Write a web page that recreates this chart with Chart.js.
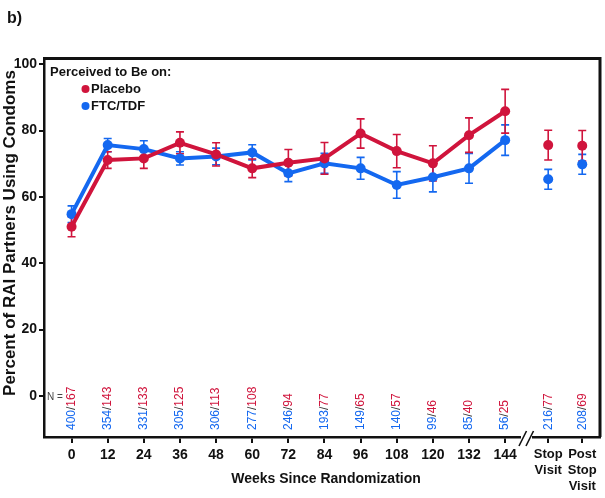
<!DOCTYPE html>
<html>
<head>
<meta charset="utf-8">
<script src="https://cdn.jsdelivr.net/npm/chart.js@4.4.0/dist/chart.umd.min.js"></script>
<style>
  html, body { margin: 0; padding: 0; background: #fff; }
  #wrap { width: 605px; height: 498px; }
</style>
</head>
<body>
<div id="wrap"><canvas id="chart" width="605" height="498"></canvas></div>
<script>
// Weeks since randomization, then the two visit columns after the axis break
const weeks = [0, 12, 24, 36, 48, 60, 72, 84, 96, 108, 120, 132, 144];
const visitX = [158.3, 169.6];
const visitLabels = [['Stop', 'Visit'], ['Post', 'Stop', 'Visit']];
const yTicks = [0, 20, 40, 60, 80, 100];

// Percent of RAI partners using condoms (weeks..., stop, post stop)
const placeboPct = [51.0, 71.1, 71.6, 76.3, 72.8, 68.6, 70.3, 71.6, 79.1, 73.8, 70.1, 78.6, 85.8, 75.6, 75.4];
const placeboErr = [3.0, 2.5, 3.0, 3.3, 3.5, 2.8, 4.0, 4.8, 4.4, 5.0, 5.3, 5.2, 6.6, 4.5, 4.6];
const ftcPct = [54.8, 75.6, 74.4, 71.6, 72.2, 73.4, 67.1, 70.1, 68.6, 63.6, 65.9, 68.6, 77.1, 65.3, 69.8];
const ftcErr = [2.5, 2.0, 2.5, 2.0, 2.5, 2.3, 2.5, 3.0, 3.3, 4.0, 4.4, 4.5, 4.6, 3.0, 3.0];

// N = FTC/TDF / Placebo
const ftcN = [400, 354, 331, 305, 306, 277, 246, 193, 149, 140, 99, 85, 56, 216, 208];
const placeboN = [167, 143, 133, 125, 113, 108, 94, 77, 65, 57, 46, 40, 25, 77, 69];

const RED = '#d0143c';
const BLUE = '#1468f0';
const INK = '#111';
const SANS = "'Liberation Sans', Arial, sans-serif";

const xValues = weeks.concat(visitX);
const tickLabels = weeks.map(String).concat(visitLabels);
const lastWeek = weeks.length - 1;

function toPoints(values) {
    return values.map((v, i) => ({ x: xValues[i], y: v }));
}

function makeDataset(label, values, errors, color) {
    return {
        label,
        data: toPoints(values),
        errors,
        borderColor: color,
        backgroundColor: color,
        borderWidth: 4,
        pointRadius: 5,
        pointBorderWidth: 0,
        pointBackgroundColor: color,
        tension: 0,
        segment: {
            borderColor: (c) => (c.p0DataIndex >= lastWeek ? 'transparent' : color),
        },
    };
}

const errorBars = {
    id: 'errorBars',
    beforeDatasetsDraw(chart) {
        const { ctx } = chart;
        const yScale = chart.scales.y;
        for (let d = chart.data.datasets.length - 1; d >= 0; d--) {
            const ds = chart.data.datasets[d];
            const meta = chart.getDatasetMeta(d);
            ctx.save();
            ctx.strokeStyle = ds.borderColor;
            ctx.lineWidth = 1.6;
            meta.data.forEach((pt, i) => {
                const v = ds.data[i].y;
                const e = ds.errors[i];
                const top = yScale.getPixelForValue(v + e);
                const bot = yScale.getPixelForValue(v - e);
                ctx.beginPath();
                ctx.moveTo(pt.x, top);
                ctx.lineTo(pt.x, bot);
                ctx.moveTo(pt.x - 4, top);
                ctx.lineTo(pt.x + 4, top);
                ctx.moveTo(pt.x - 4, bot);
                ctx.lineTo(pt.x + 4, bot);
                ctx.stroke();
            });
            ctx.restore();
        }
    },
};

const decorations = {
    id: 'decorations',
    afterDraw(chart) {
        const { ctx, chartArea } = chart;
        const xScale = chart.scales.x;
        ctx.save();

        // box top and right
        ctx.strokeStyle = INK;
        ctx.lineWidth = 3;
        ctx.beginPath();
        ctx.moveTo(chartArea.left - 1, chartArea.top);
        ctx.lineTo(chartArea.right, chartArea.top);
        ctx.lineTo(chartArea.right, chartArea.bottom);
        ctx.stroke();

        // axis break
        ctx.fillStyle = '#fff';
        ctx.fillRect(521, chartArea.bottom - 3, 11, 6);
        ctx.lineWidth = 1.6;
        ctx.beginPath();
        ctx.moveTo(519, 446);
        ctx.lineTo(526.5, 431);
        ctx.moveTo(526, 446);
        ctx.lineTo(533.5, 431);
        ctx.stroke();

        // N labels
        ctx.font = `10px ${SANS}`;
        ctx.fillStyle = '#444';
        ctx.textAlign = 'left';
        ctx.textBaseline = 'middle';
        ctx.fillText('N =', 47, 397);

        ctx.font = `12px ${SANS}`;
        xValues.forEach((xv, i) => {
            const px = xScale.getPixelForValue(xv);
            ctx.save();
            ctx.translate(px, 430);
            ctx.rotate(-Math.PI / 2);
            let off = 0;
            const parts = [[String(ftcN[i]), BLUE], ['/', '#333'], [String(placeboN[i]), RED]];
            parts.forEach(([txt, col]) => {
                ctx.fillStyle = col;
                ctx.fillText(txt, off, 0);
                off += ctx.measureText(txt).width;
            });
            ctx.restore();
        });

        // legend
        ctx.fillStyle = INK;
        ctx.font = `bold 13px ${SANS}`;
        ctx.fillText('Perceived to Be on:', 50, 72);
        [['Placebo', RED, 89], ['FTC/TDF', BLUE, 106]].forEach(([txt, col, y]) => {
            ctx.fillStyle = col;
            ctx.beginPath();
            ctx.arc(85.5, y, 4, 0, Math.PI * 2);
            ctx.fill();
            ctx.fillStyle = INK;
            ctx.fillText(txt, 91, y);
        });

        // axis titles
        ctx.font = `bold 14px ${SANS}`;
        ctx.textAlign = 'center';
        ctx.fillText('Weeks Since Randomization', 326, 479);
        ctx.save();
        ctx.translate(10, 233);
        ctx.rotate(-Math.PI / 2);
        ctx.font = `bold 17px ${SANS}`;
        ctx.fillText('Percent of RAI Partners Using Condoms', 0, 0);
        ctx.restore();

        // panel letter
        ctx.font = `bold 16px ${SANS}`;
        ctx.textAlign = 'left';
        ctx.fillText('b)', 7, 19);

        ctx.restore();
    },
};

new Chart(document.getElementById('chart'), {
    type: 'line',
    data: {
        datasets: [
            makeDataset('Placebo', placeboPct, placeboErr, RED),
            makeDataset('FTC/TDF', ftcPct, ftcErr, BLUE),
        ],
    },
    options: {
        responsive: false,
        animation: false,
        layout: { padding: { top: 58.5, right: 2, left: 0, bottom: 0 } },
        plugins: {
            legend: { display: false },
            tooltip: { enabled: false },
        },
        scales: {
            x: {
                type: 'linear',
                min: -9.15,
                max: 175.5,
                afterBuildTicks: (s) => { s.ticks = xValues.map((v) => ({ value: v })); },
                afterFit: (s) => { s.height = 61; },
                grid: { drawOnChartArea: false, drawTicks: true, tickLength: 6, color: INK, lineWidth: 2 },
                border: { display: true, color: INK, width: 2.5 },
                ticks: {
                    autoSkip: false,
                    maxRotation: 0,
                    minRotation: 0,
                    padding: 3,
                    color: INK,
                    font: (c) => ({
                        family: SANS,
                        size: c.tick && c.tick.value > weeks[lastWeek] ? 13 : 14,
                        weight: 'bold',
                        lineHeight: 1.25,
                    }),
                    callback: (v) => {
                        const i = xValues.indexOf(v);
                        return i < 0 ? '' : tickLabels[i];
                    },
                },
            },
            y: {
                min: -12.35,
                max: 101.7,
                afterBuildTicks: (s) => { s.ticks = yTicks.map((v) => ({ value: v })); },
                afterFit: (s) => { s.width = 44; },
                grid: { drawOnChartArea: false, drawTicks: true, tickLength: 5, color: INK, lineWidth: 2 },
                border: { display: true, color: INK, width: 2.5 },
                ticks: {
                    padding: 2,
                    color: INK,
                    font: { family: SANS, size: 14, weight: 'bold' },
                },
            },
        },
    },
    plugins: [errorBars, decorations],
});
</script>
</body>
</html>
